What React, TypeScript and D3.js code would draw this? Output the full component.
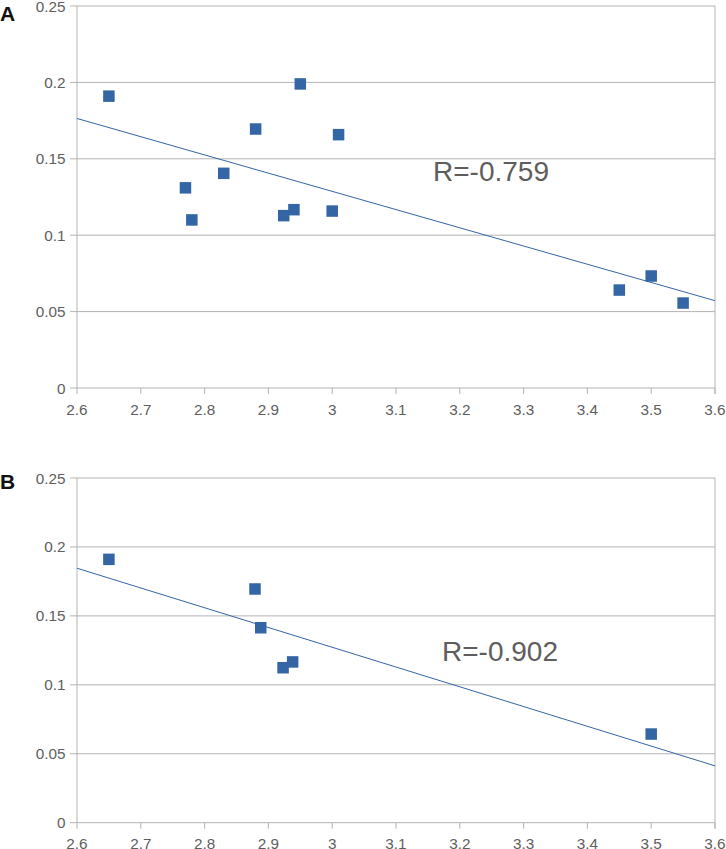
import React from "react";
import * as d3 from "d3";

const xTicks = [2.6, 2.7, 2.8, 2.9, 3.0, 3.1, 3.2, 3.3, 3.4, 3.5, 3.6];
const xTickLabels = ["2.6", "2.7", "2.8", "2.9", "3", "3.1", "3.2", "3.3", "3.4", "3.5", "3.6"];
const yTicks = [0, 0.05, 0.1, 0.15, 0.2, 0.25];
const yTickLabels = ["0", "0.05", "0.1", "0.15", "0.2", "0.25"];

const seriesAX = [2.65, 2.77, 2.78, 2.83, 2.88, 2.924, 2.94, 2.95, 3.0, 3.01, 3.45, 3.5, 3.55];
const seriesAY = [0.191, 0.131, 0.11, 0.1405, 0.1695, 0.1128, 0.1167, 0.199, 0.1158, 0.1658, 0.0641, 0.0733, 0.0556];
const seriesBX = [2.65, 2.879, 2.888, 2.923, 2.938, 3.5];
const seriesBY = [0.191, 0.1695, 0.1414, 0.1124, 0.1166, 0.0643];

const panelLabels = ["A", "B"];
const rLabels = ["R=-0.759", "R=-0.902"];

const BLUE = "#3465a4";
const GRID = "#b3b3b3";
const TEXT = "#5e5e5e";
const FONT = "Liberation Sans, Arial, sans-serif";

function regression(xs: number[], ys: number[]) {
  const mx = d3.mean(xs)!;
  const my = d3.mean(ys)!;
  let sxy = 0, sxx = 0;
  xs.forEach((x, i) => { sxy += (x - mx) * (ys[i] - my); sxx += (x - mx) * (x - mx); });
  const slope = sxy / sxx;
  return (x: number) => my + slope * (x - mx);
}

type PanelProps = {
  top: number; bottom: number; xs: number[]; ys: number[]; label: string; labelY: number; rText: string; rX: number; rY: number;
};

function Panel({ top, bottom, xs, ys, label, labelY, rText, rX, rY }: PanelProps) {
  const x = d3.scaleLinear().domain([2.6, 3.6]).range([77, 715]);
  const y = d3.scaleLinear().domain([0, 0.25]).range([bottom, top]);
  const fit = regression(xs, ys);
  const lineGen = d3.line<number>().x((d) => x(d)).y((d) => y(fit(d)));
  const sq = 11.5;
  return (
    <g>
      {yTicks.map((t, i) => (
        <g key={"y" + i}>
          <line x1={70} x2={715} y1={y(t)} y2={y(t)} stroke={GRID} strokeWidth={1} />
          <text x={65.5} y={y(t)} dy="0.36em" textAnchor="end" fontSize={15.3} fill={TEXT} fontFamily={FONT}>
            {yTickLabels[i]}
          </text>
        </g>
      ))}
      <line x1={77} x2={77} y1={top} y2={bottom} stroke={GRID} strokeWidth={1} />
      <line x1={715} x2={715} y1={top} y2={bottom + 6} stroke={GRID} strokeWidth={1} />
      {xTicks.map((t, i) => (
        <g key={"x" + i}>
          <line x1={x(t)} x2={x(t)} y1={bottom} y2={bottom + 6} stroke={GRID} strokeWidth={1} />
          <text x={x(t)} y={bottom + 26.5} textAnchor="middle" fontSize={15.3} fill={TEXT} fontFamily={FONT}>
            {xTickLabels[i]}
          </text>
        </g>
      ))}
      <path d={lineGen([2.6, 3.6]) || ""} stroke={BLUE} strokeWidth={1} fill="none" />
      {xs.map((v, i) => (
        <rect key={"p" + i} x={x(v) - sq / 2} y={y(ys[i]) - sq / 2} width={sq} height={sq} fill={BLUE} />
      ))}
      <text x={rX} y={rY} fontSize={28} fill={TEXT} fontFamily={FONT}>{rText}</text>
      <text x={0} y={labelY} fontSize={21} fontWeight="bold" fill="#111" fontFamily={FONT}>{label}</text>
    </g>
  );
}

export default function App() {
  return (
    <svg width={726} height={849} style={{ position: "absolute", left: 0, top: 0, background: "#fff" }}>
      <rect x={0} y={0} width={726} height={849} fill="#fff" />
      <Panel top={6} bottom={388} xs={seriesAX} ys={seriesAY} label={panelLabels[0]} labelY={21} rText={rLabels[0]} rX={433} rY={180.7} />
      <Panel top={478} bottom={822.7} xs={seriesBX} ys={seriesBY} label={panelLabels[1]} labelY={489} rText={rLabels[1]} rX={442} rY={661} />
    </svg>
  );
}
